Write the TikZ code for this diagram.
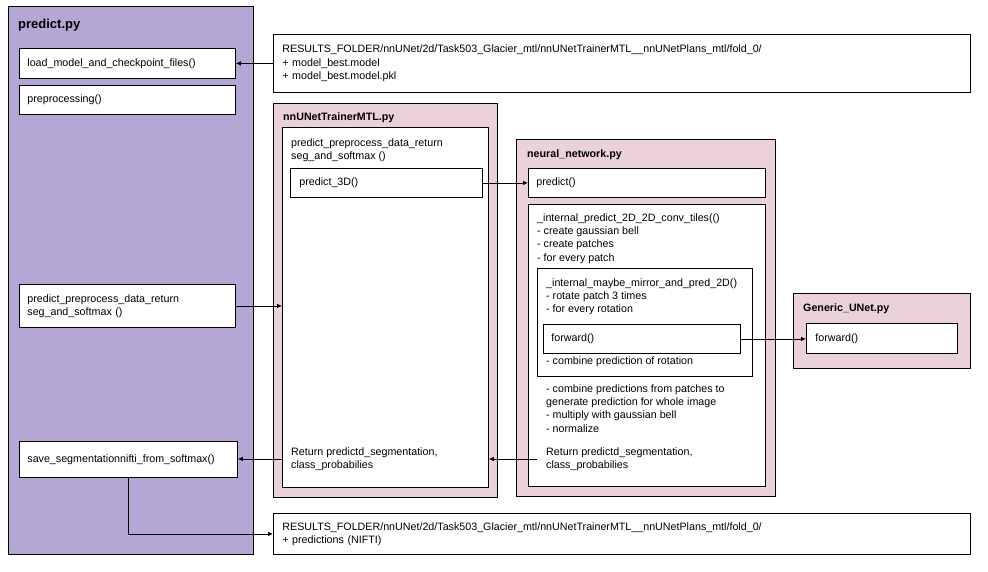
\documentclass[tikz,border=0pt]{standalone}
\usepackage{fontspec}
\setmainfont{Liberation Sans}
\usetikzlibrary{positioning, arrows.meta}
\definecolor{predictpurple}{HTML}{B4A7D6}
\definecolor{modulepink}{HTML}{EAD1DC}
\tikzstyle{Arrow} = [
%Create custom arrow style:
line width = 0.8pt,
-{Latex[length = 5pt, width = 4.5pt]}
]

\begin{document}
\begin{tikzpicture}[x = 1pt, y = -1pt,
			module/.style = {rectangle, draw, line width = 0.8pt, anchor = north west, inner sep = 0pt},
			func/.style = {rectangle, draw, fill = white, line width = 0.8pt, anchor = north west, align = left, inner xsep = 8pt, inner ysep = 0pt, font = \fontsize{10.7}{13.2}\selectfont},
			comment/.style = {anchor = west, inner sep = 0pt, align = left, font = \fontsize{10.7}{13.2}\selectfont},
			title/.style = {anchor = west, inner sep = 0pt, font = \bfseries\fontsize{10.7}{13}\selectfont},
		]

		\useasboundingbox (0,0) rectangle (988,571);

		% predict.py
		\node[module, fill = predictpurple, minimum width = 245pt, minimum height = 548pt](predict) at (8,6){};
		\node[title, font = \bfseries\fontsize{13}{15}\selectfont](predictT) at (18,25){predict.py};
		\node[func, text width = 200pt, minimum height = 30pt](load) at (19,48){load\_model\_and\_checkpoint\_files()};
		\node[func, text width = 200pt, minimum height = 29pt](prep) at (19,85){preprocessing()};
		\node[func, text width = 200pt, minimum height = 43pt](pp) at (19,284){predict\_preprocess\_data\_return\\seg\_and\_softmax ()};
		\node[func, text width = 202pt, minimum height = 36pt](save) at (19,441){save\_segmentationnifti\_from\_softmax()};

		% results folders
		\node[func, inner xsep = 9pt, text width = 679pt, minimum height = 58pt](resIn) at (273,34){RESULTS\_FOLDER/nnUNet/2d/Task503\_Glacier\_mtl/nnUNetTrainerMTL\_\_nnUNetPlans\_mtl/fold\_0/\\+ model\_best.model\\+ model\_best.model.pkl};
		\node[func, inner xsep = 9pt, text width = 679pt, minimum height = 41pt](resOut) at (273,513){RESULTS\_FOLDER/nnUNet/2d/Task503\_Glacier\_mtl/nnUNetTrainerMTL\_\_nnUNetPlans\_mtl/fold\_0/\\+ predictions (NIFTI)};

		% nnUNetTrainerMTL.py
		\node[module, fill = modulepink, minimum width = 224pt, minimum height = 394pt](trainer) at (273,103){};
		\node[title](trainerT) at (283,118){nnUNetTrainerMTL.py};
		\node[module, fill = white, minimum width = 206pt, minimum height = 360pt](trainerIn) at (282,127){};
		\node[comment](trainerC) at (291,150){predict\_preprocess\_data\_return\\seg\_and\_softmax ()};
		\node[func, inner xsep = 9pt, text width = 174pt, minimum height = 29pt](p3d) at (290,168){predict\_3D()};
		\node[comment](trainerR) at (291,459){Return predictd\_segmentation,\\class\_probabilies};

		% neural_network.py
		\node[module, fill = modulepink, minimum width = 259pt, minimum height = 357pt](neural) at (516,139){};
		\node[title](neuralT) at (527,155){neural\_network.py};
		\node[func, text width = 221pt, minimum height = 29pt](nnpredict) at (528,168){predict()};
		\node[module, fill = white, minimum width = 237pt, minimum height = 282pt](tiles) at (528,204){};
		\node[comment](tilesC) at (537,238.5){\_internal\_predict\_2D\_2D\_conv\_tiles(()\\- create gaussian bell\\- create patches\\- for every patch};
		\node[module, fill = white, minimum width = 215pt, minimum height = 108pt](mirror) at (537,268){};
		\node[comment](mirrorC) at (546,297){\_internal\_maybe\_mirror\_and\_pred\_2D()\\- rotate patch 3 times\\- for every rotation};
		\node[func, text width = 181pt, minimum height = 29pt](fwd) at (543,324){forward()};
		\node[comment](mirrorE) at (546,362){- combine prediction of rotation};
		\node[comment](tilesE) at (546,408.5){- combine predictions from patches to\\generate prediction for whole image\\- multiply with gaussian bell\\- normalize};
		\node[comment](neuralR) at (546,459){Return predictd\_segmentation,\\class\_probabilies};

		% Generic_UNet.py
		\node[module, fill = modulepink, minimum width = 177pt, minimum height = 75pt](generic) at (793,293){};
		\node[title](genericT) at (803,309){Generic\_UNet.py};
		\node[func, inner xsep = 9pt, text width = 133pt, minimum height = 30pt](gfwd) at (806,323){forward()};

		\draw[Arrow](resIn.west)--(load.east);
		\draw[Arrow](pp.east)--(pp.east -| trainerIn.west);
		\draw[Arrow](p3d.east)--(p3d.east -| nnpredict.west);
		\draw[Arrow](fwd.east)--(fwd.east -| gfwd.west);
		\draw[Arrow]([xshift = -9pt]neuralR.west)--(neuralR.west -| trainerIn.east);
		\draw[Arrow](trainerR.west -| trainerIn.west)--(trainerR.west -| save.east);
		\draw[Arrow](save.south)|-(resOut.west);

	\end{tikzpicture}
\end{document}
